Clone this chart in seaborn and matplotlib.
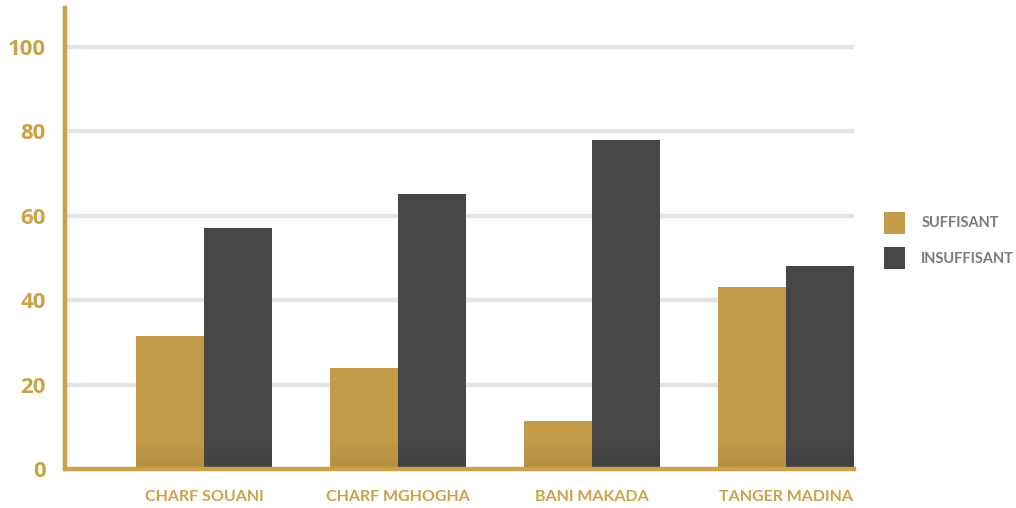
import numpy as np
import pandas as pd
import matplotlib
matplotlib.use("Agg")
import matplotlib.pyplot as plt
from matplotlib.patches import Patch
from matplotlib.colors import LinearSegmentedColormap
import seaborn as sns

# Data
districts = ["CHARF SOUANI", "CHARF MGHOGHA", "BANI MAKADA", "TANGER MADINA"]
suffisant = [31.5, 23.9, 11.4, 43.1]
insuffisant = [57.1, 65.2, 78.0, 48.1]
series_names = ["SUFFISANT", "INSUFFISANT"]
y_ticks = [0, 20, 40, 60, 80, 100]

GOLD = "#C49B48"
DARK = "#484647"
AXIS_GOLD = "#CBA24A"
GRID = "#E4E4E4"
LEGEND_TEXT = "#7A7A7A"

df = pd.DataFrame({
    "district": districts * 2,
    "series": [series_names[0]] * len(districts) + [series_names[1]] * len(districts),
    "value": suffisant + insuffisant,
})

sns.set_theme(style="white")
plt.rcParams["font.family"] = ["Lato", "DejaVu Sans"]

fig = plt.figure(figsize=(10.16, 5.08), dpi=100)
ax = fig.add_axes([65 / 1016, 1 - 469 / 508, (854 - 65) / 1016, (469 - 8) / 508])

sns.barplot(data=df, x="district", y="value", hue="series",
            palette=[GOLD, DARK], width=0.70, saturation=1,
            linewidth=0, ax=ax, legend=False, zorder=3)

# subtle darkening toward the base of each bar
shade = LinearSegmentedColormap.from_list(
    "shade", [(0, 0, 0, 0.09), (0, 0, 0, 0.0)])
grad = np.linspace(0, 1, 64).reshape(-1, 1)
for p in ax.patches:
    x0 = p.get_x()
    x1 = x0 + p.get_width()
    im = ax.imshow(grad, extent=(x0, x1, 0, 7.5), origin="lower",
                   cmap=shade, aspect="auto", zorder=4, interpolation="bilinear")
    im.set_clip_path(p)

ax.set_xlim(-0.716, 3.35)
ax.set_ylim(0, 109.2)
ax.set_yticks(y_ticks)
ax.set_xlabel("")
ax.set_ylabel("")

# grid
for t in y_ticks[1:]:
    ax.axhline(t, color=GRID, linewidth=3.2, zorder=1)

for s in ["top", "right"]:
    ax.spines[s].set_visible(False)
for s in ["left", "bottom"]:
    ax.spines[s].set_color(AXIS_GOLD)
    ax.spines[s].set_linewidth(3.2)
    ax.spines[s].set_zorder(5)

ax.tick_params(axis="y", length=0, pad=14, labelsize=16, labelcolor=AXIS_GOLD)
ax.tick_params(axis="x", length=0, pad=15, labelsize=11.5, labelcolor=AXIS_GOLD)
for lab in ax.get_yticklabels():
    lab.set_fontweight("bold")
    lab.set_family(["Open Sans", "DejaVu Sans"])
for lab in ax.get_xticklabels():
    lab.set_fontweight("bold")

handles = [Patch(facecolor=GOLD, edgecolor="none"),
           Patch(facecolor=DARK, edgecolor="none")]
leg = fig.legend(handles, series_names, loc="upper left",
                 bbox_to_anchor=(884 / 1016, 1 - 212 / 508),
                 frameon=False, borderpad=0, borderaxespad=0,
                 handlelength=1.45, handleheight=1.9, handletextpad=1.1,
                 labelspacing=0.95, prop={"size": 10.5, "weight": "bold"})
for t in leg.get_texts():
    t.set_color(LEGEND_TEXT)

fig.savefig("out.png", dpi=100, facecolor="white")
